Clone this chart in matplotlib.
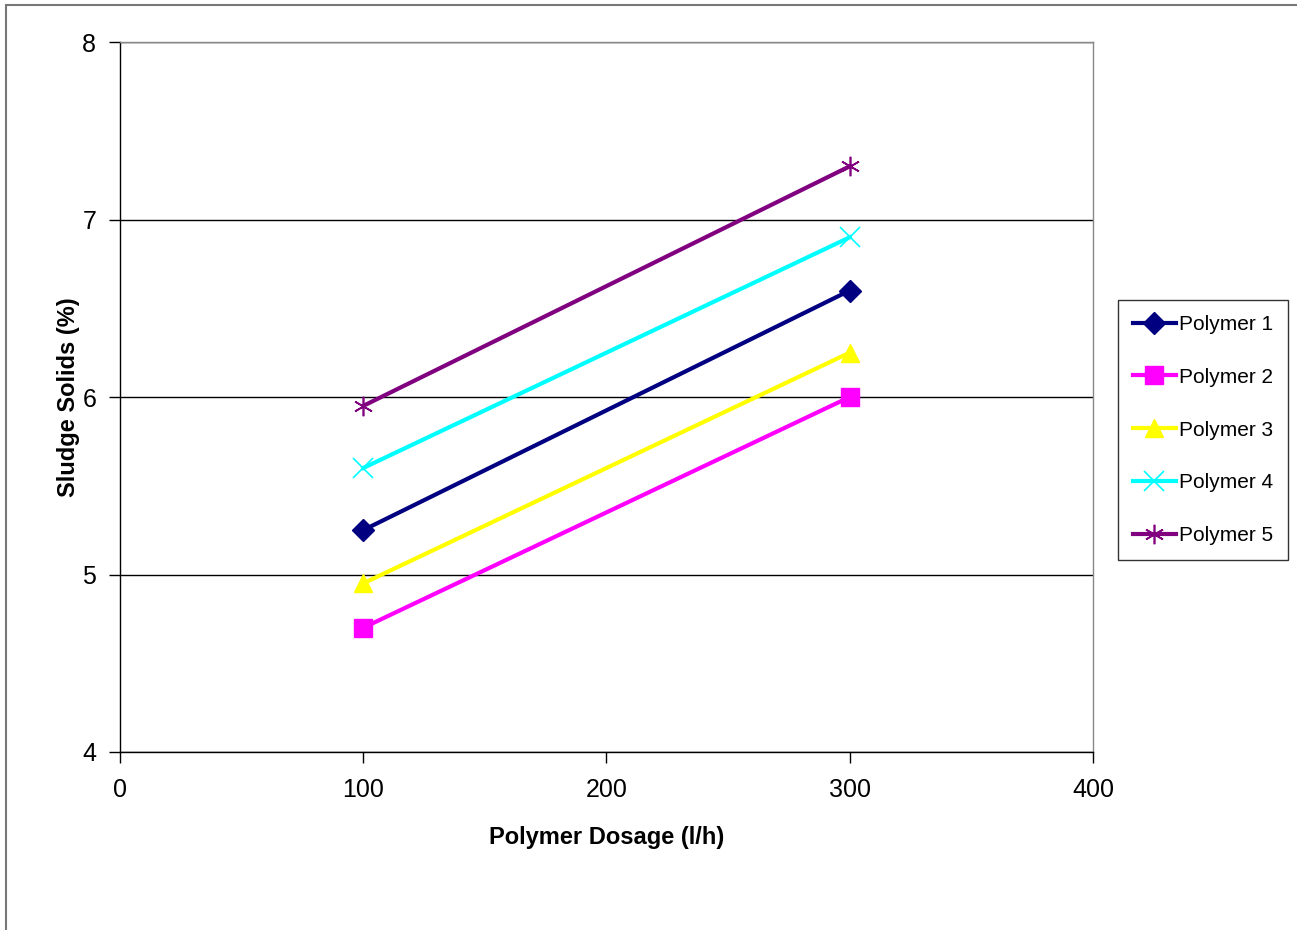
import matplotlib.pyplot as plt
from matplotlib.patches import Rectangle

plt.rcParams['font.family'] = ['Liberation Sans', 'DejaVu Sans']

# dati
dosage = [100, 300]
series_names = ['Polymer 1', 'Polymer 2', 'Polymer 3', 'Polymer 4', 'Polymer 5']
polymer_1 = [5.25, 6.6]
polymer_2 = [4.7, 6.0]
polymer_3 = [4.95, 6.25]
polymer_4 = [5.6, 6.9]
polymer_5 = [5.95, 7.3]
x_ticks = [0, 100, 200, 300, 400]
y_ticks = [4, 5, 6, 7, 8]

values = [polymer_1, polymer_2, polymer_3, polymer_4, polymer_5]
colors = ['#000080', '#FF00FF', '#FFFF00', '#00FFFF', '#800080']
markers = ['D', 's', '^', 'x', (6, 2, 0)]
msizes = [11, 13, 13, 14, 14]

fig = plt.figure(figsize=(12.97, 9.3), dpi=100)
# bordo della figura
fig.patches.append(Rectangle((0.0046, -0.01), 1.0, 1.0046, transform=fig.transFigure,
                             fill=False, edgecolor='#777777', linewidth=1.5))
ax = fig.add_axes([0.0925, 0.1914, 0.7502, 0.7634])

for name, vals, c, m, ms in zip(series_names, values, colors, markers, msizes):
    ax.plot(dosage, vals, color=c, linewidth=3, marker=m, markersize=ms,
            markeredgewidth=1.2 if m in ('x', (6, 2, 0)) else 1, label=name, clip_on=False)

ax.set_xlim(0, 400)
ax.set_ylim(4, 8)
ax.set_xticks(x_ticks)
ax.set_yticks(y_ticks)
ax.yaxis.grid(True, color='black', linewidth=1)
ax.set_axisbelow(True)
for s in ['top', 'right']:
    ax.spines[s].set_color('#888888')
    ax.spines[s].set_linewidth(1)
for s in ['left', 'bottom']:
    ax.spines[s].set_color('black')
    ax.spines[s].set_linewidth(1)
ax.tick_params(direction='out', length=8, width=1, labelsize=18)
ax.tick_params(axis='x', pad=11)
ax.tick_params(axis='y', pad=9)

ax.set_xlabel('Polymer Dosage (l/h)', fontsize=17, fontweight='bold', labelpad=17)
ax.set_ylabel('Sludge Solids (%)', fontsize=17, fontweight='bold', labelpad=2)

leg = ax.legend(loc='center left', bbox_to_anchor=(1.0257, 0.4535), fontsize=15,
                frameon=True, fancybox=False, edgecolor='black', handlelength=2.1,
                labelspacing=1.62, borderpad=0.7, handletextpad=0.15, markerscale=1.0,
                borderaxespad=0)
leg.get_frame().set_linewidth(1)

fig.savefig('out.png', dpi=100)
